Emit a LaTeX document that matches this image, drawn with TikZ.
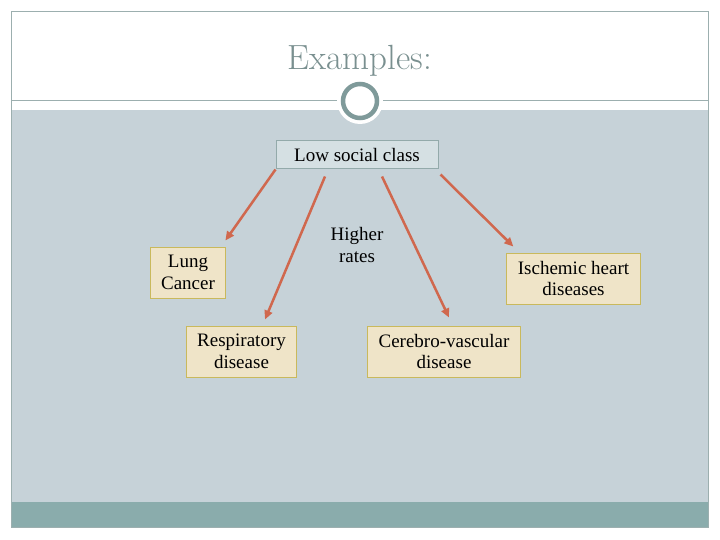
\documentclass[tikz,border=0pt]{standalone}
\usepackage{fontspec}
\newfontfamily\boxserif{Liberation Serif}
\usetikzlibrary{arrows.meta}
\definecolor{bandfill}{HTML}{C6D2D8}
\definecolor{footfill}{HTML}{8AACAC}
\definecolor{framegray}{HTML}{9CAFAF}
\definecolor{titlegray}{HTML}{7A9090}
\definecolor{ringgray}{HTML}{7F9A9A}
\definecolor{lowfill}{HTML}{D5E0E3}
\definecolor{lowedge}{HTML}{93AAAA}
\definecolor{creamfill}{HTML}{EFE4C8}
\definecolor{creamedge}{HTML}{C9B95C}
\definecolor{arrowred}{HTML}{D0684E}

\begin{document}
\begin{tikzpicture}[x=1pt,y=-1pt,>={Triangle[length=9pt,width=8pt]},
 boxfont/.style={font=\boxserif\fontsize{19}{21.5}\selectfont},
 cause/.style={boxfont,draw=lowedge,fill=lowfill,line width=1pt,minimum width=162pt,minimum height=28pt},
 effect/.style={boxfont,draw=creamedge,fill=creamfill,line width=1pt,minimum height=51pt,inner xsep=11pt,align=center},
 link/.style={draw=arrowred,line width=2.5pt,->}]
\useasboundingbox (0,0) rectangle (720,540);
% slide background
\fill[bandfill] (11,110) rectangle (708,502);
\fill[footfill] (11,502) rectangle (708,527);
\draw[framegray,line width=1pt] (11,12) rectangle (708,527);
\draw[framegray,line width=1pt] (11,101) -- (708,101);
\fill[white] (360,101) circle (23pt);
\draw[ringgray,line width=4.5pt,fill=white] (360,101) circle (17pt);
\node[font=\fontsize{35}{40}\selectfont,text=titlegray,anchor=base] (title) at (360,70) {Examples:};
% diagram
\node[cause] (low) at (357,155) {Low social class};
\node[effect] (lung) at (188,272.5) {Lung\\Cancer};
\node[effect] (resp) at (241.5,351.5) {Respiratory\\disease};
\node[effect] (cereb) at (444,351.5) {Cerebro-vascular\\disease};
\node[effect] (isch) at (573.5,278.5) {Ischemic heart\\diseases};
\node[boxfont,align=center] (rates) at (357,245) {Higher\\rates};
\draw[link] (low.south west) -- ([xshift=-1pt,yshift=6pt]lung.north east);
\draw[link] ([xshift=-32pt,yshift=-7pt]low.south) -- ([xshift=23.5pt,yshift=6pt]resp.north);
\draw[link] ([xshift=25pt,yshift=-7pt]low.south) -- ([xshift=5pt,yshift=8pt]cereb.north);
\draw[link] ([xshift=2pt,yshift=-5pt]low.south east) -- ([xshift=7pt,yshift=6pt]isch.north west);
\end{tikzpicture}
\end{document}
